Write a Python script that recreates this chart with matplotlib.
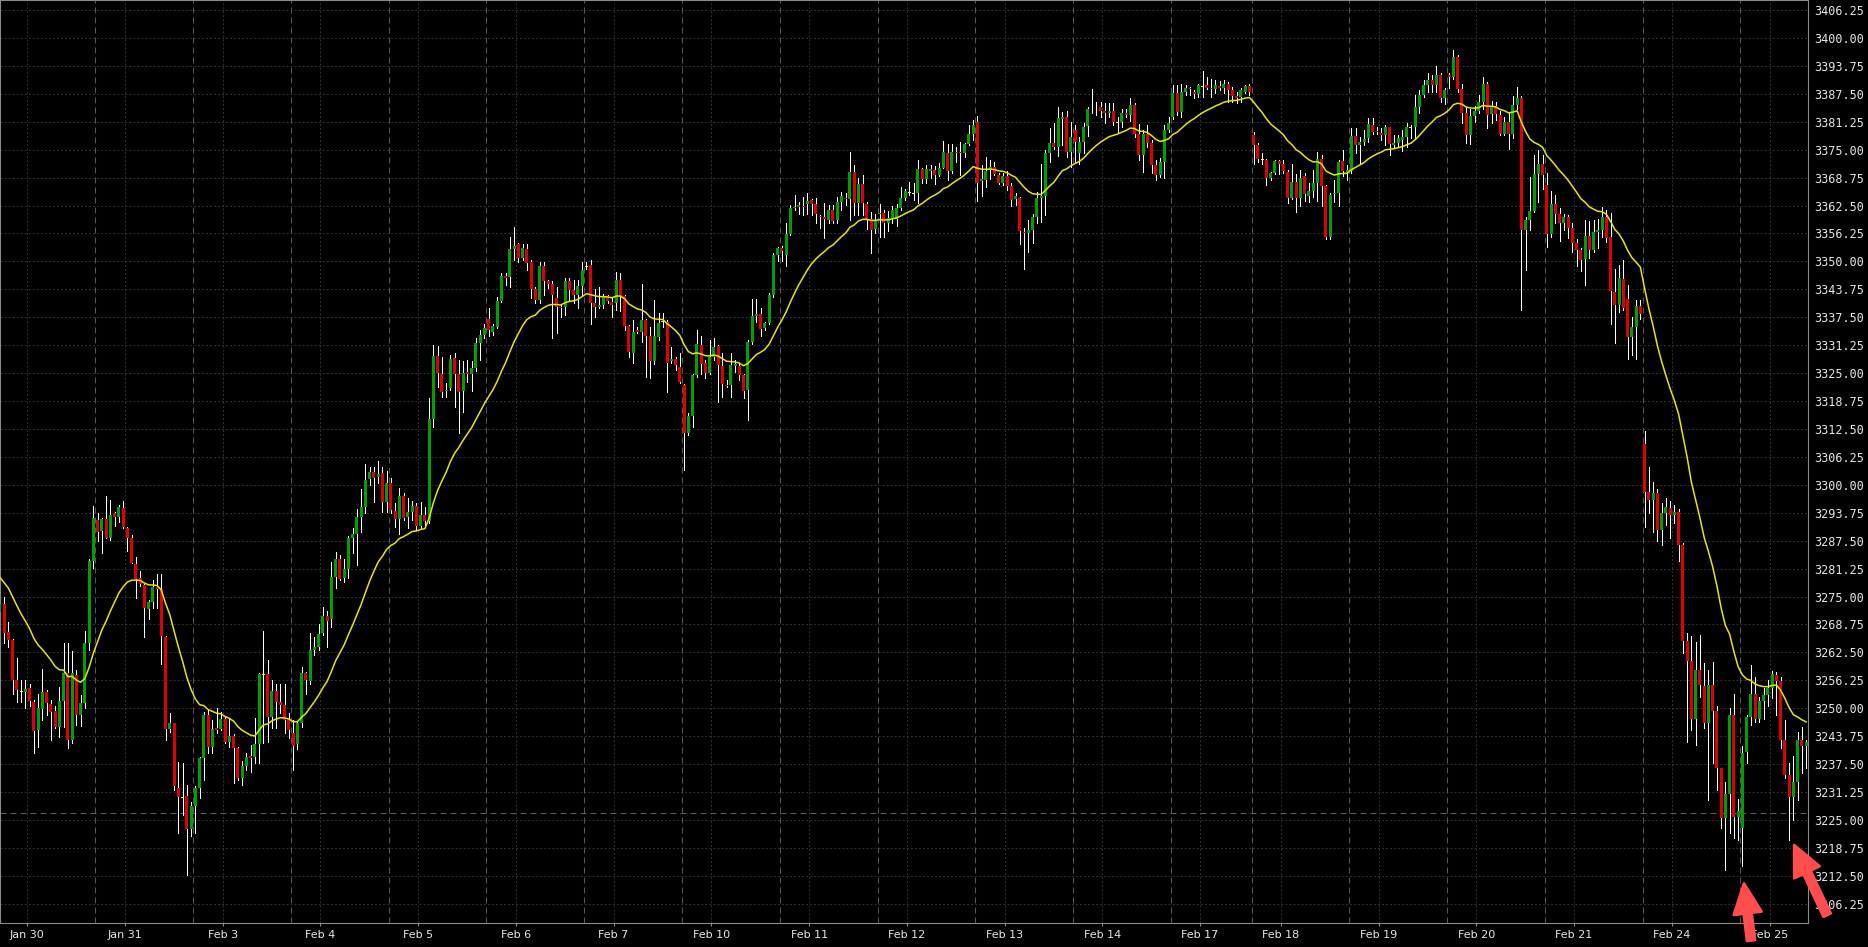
import numpy as np
import matplotlib
matplotlib.use("Agg")
import matplotlib.pyplot as plt
from matplotlib.patches import FancyArrow
from matplotlib.transforms import IdentityTransform

plt.rcParams['lines.scale_dashes'] = False

# ---------------- data ----------------
day_labels = ["Jan 30", "Jan 31", "Feb 3", "Feb 4", "Feb 5", "Feb 6", "Feb 7", "Feb 10",
              "Feb 11", "Feb 12", "Feb 13", "Feb 14", "Feb 17", "Feb 18", "Feb 19",
              "Feb 20", "Feb 21", "Feb 24", "Feb 25"]
bars_per_day = [23, 23, 23, 23, 23, 23, 23, 23, 23, 23, 23, 23, 19, 23, 23, 23, 23, 23, 16]

opens = [
 # Jan 30
 3271.6,3273.3,3267.1,3265.3,3256.3,3253.7,3253.7,3254.5,3251.5,3245.1,3249.9,3253.6,3250.9,3249.4,3245.9,3251.6,3257.8,3242.9,3257.4,3248.5,3251.2,3264.6,3282.9,
 # Jan 31
 3292.1,3289.6,3292.3,3288.2,3293.8,3292.7,3294.8,3290.4,3288.2,3282.3,3279.1,3277.5,3272.3,3273.8,3277.1,3276.8,3265.9,3245.3,3246.6,3232.1,3230.0,3230.4,3222.9,
 # Feb 3
 3228.1,3232.1,3238.8,3248.5,3241.4,3245.5,3245.3,3247.5,3242.5,3243.8,3241.0,3234.5,3237.1,3239.3,3239.0,3242.1,3257.6,3257.7,3248.1,3253.9,3251.4,3250.7,3247.4,
 # Feb 4
 3244.4,3242.1,3246.6,3258.0,3256.1,3263.0,3263.8,3266.9,3270.6,3270.0,3279.3,3283.5,3279.1,3281.1,3288.0,3289.0,3292.9,3295.0,3301.2,3302.9,3301.8,3302.6,3296.2,
 # Feb 5
 3300.3,3294.1,3292.3,3297.5,3292.9,3294.0,3295.3,3290.8,3293.2,3291.9,3314.7,3328.8,3324.8,3321.0,3321.7,3328.4,3324.8,3321.0,3325.2,3324.7,3326.2,3331.7,3333.5,
 # Feb 6
 3337.0,3334.3,3335.4,3341.1,3346.7,3346.4,3352.7,3353.9,3350.8,3352.7,3349.9,3343.8,3341.4,3349.0,3345.5,3344.9,3341.9,3339.9,3339.7,3345.6,3343.6,3342.5,3344.5,
 # Feb 7
 3348.8,3349.2,3340.6,3339.9,3340.2,3342.3,3340.8,3340.6,3345.8,3342.3,3335.6,3329.6,3334.6,3334.3,3336.9,3333.4,3327.6,3333.0,3336.5,3336.5,3327.6,3328.2,3326.4,
 # Feb 10
 3322.3,3311.5,3315.4,3324.6,3331.3,3327.3,3325.1,3328.5,3331.1,3326.6,3322.3,3322.3,3326.6,3326.6,3324.6,3321.2,3332.0,3337.8,3338.2,3335.2,3336.3,3342.5,3351.4,
 # Feb 11
 3352.9,3351.4,3356.1,3361.9,3362.2,3362.5,3362.8,3363.7,3362.8,3360.2,3359.9,3359.3,3361.6,3359.3,3363.4,3364.1,3364.0,3370.1,3363.0,3367.3,3362.8,3359.4,3357.2,
 # Feb 12
 3360.6,3360.9,3358.5,3359.6,3359.4,3361.9,3364.1,3365.4,3365.1,3365.2,3370.7,3368.4,3370.3,3370.4,3369.3,3371.0,3374.2,3370.2,3374.4,3374.4,3374.2,3376.3,3378.5,
 # Feb 13
 3381.3,3367.9,3368.2,3370.5,3371.2,3369.3,3367.5,3369.1,3366.9,3363.9,3364.2,3356.5,3356.3,3357.0,3359.9,3364.1,3364.6,3374.2,3376.4,3375.7,3381.9,3382.2,3374.5,
 # Feb 14
 3379.4,3374.3,3376.8,3380.3,3384.1,3384.1,3384.5,3383.6,3383.1,3383.6,3381.1,3381.1,3383.3,3382.8,3385.0,3378.6,3373.8,3378.5,3376.4,3371.6,3369.3,3372.3,3379.4,
 # Feb 17
 3382.4,3387.6,3383.5,3388.0,3388.7,3388.0,3387.4,3389.2,3389.5,3388.9,3388.5,3389.2,3388.9,3389.8,3388.3,3387.1,3386.7,3388.0,3389.2,
 # Feb 18
 3378.3,3376.0,3372.7,3372.7,3368.6,3369.7,3372.5,3371.9,3370.1,3364.2,3367.8,3364.2,3369.1,3364.7,3365.7,3367.6,3372.8,3366.9,3355.5,3365.0,3365.4,3372.5,3369.9,
 # Feb 19
 3370.2,3378.0,3376.0,3376.8,3377.5,3380.5,3379.2,3378.8,3378.3,3380.0,3376.0,3376.4,3377.2,3377.9,3379.9,3380.1,3384.5,3387.2,3389.5,3390.6,3389.5,3391.7,3386.5,
 # Feb 20
 3391.7,3391.3,3395.8,3388.5,3383.3,3378.3,3382.5,3383.6,3385.7,3389.8,3382.9,3384.8,3382.8,3378.6,3381.3,3378.6,3385.0,3386.5,3357.0,3359.2,3361.3,3369.5,3371.9,
 # Feb 21
 3367.1,3356.1,3362.8,3360.7,3358.5,3359.9,3357.4,3354.2,3352.5,3350.5,3355.7,3352.5,3356.6,3357.0,3360.0,3355.5,3343.2,3340.2,3346.1,3341.5,3333.0,3335.4,3340.0,
 # Feb 24
 3309.1,3298.5,3296.7,3298.2,3290.0,3293.6,3294.8,3293.3,3294.0,3286.5,3265.1,3260.6,3247.5,3258.6,3255.0,3246.6,3255.2,3249.4,3236.6,3225.4,3230.8,3248.5,3225.7,
 # Feb 25
 3223.3,3240.3,3248.0,3253.1,3247.7,3251.6,3253.0,3254.5,3257.4,3256.1,3242.9,3235.1,3230.2,3233.6,3242.9,3241.6,
]

highs = [
 3274.8,3274.8,3269.4,3265.5,3261.2,3256.3,3256.3,3255.4,3251.8,3253.3,3258.8,3254.2,3251.8,3250.4,3254.8,3264.5,3264.5,3262.9,3258.5,3252.9,3267.3,3283.5,3295.3,
 3293.6,3292.5,3297.5,3296.6,3294.0,3295.4,3296.3,3290.6,3288.8,3283.9,3280.8,3277.8,3274.2,3278.7,3280.0,3280.0,3266.2,3248.9,3246.8,3238.0,3237.8,3232.8,3229.0,
 3232.5,3239.2,3249.1,3249.6,3247.3,3250.0,3249.2,3248.0,3247.8,3244.2,3241.4,3238.2,3239.9,3241.8,3247.8,3258.0,3267.3,3260.8,3256.3,3255.4,3255.4,3255.4,3248.9,
 3247.4,3246.9,3259.3,3258.2,3266.8,3266.0,3268.8,3272.7,3271.8,3282.8,3284.9,3284.3,3283.4,3288.5,3290.3,3294.7,3299.0,3304.6,3304.0,3303.9,3305.3,3303.9,3303.1,
 3301.6,3295.9,3299.2,3298.2,3297.0,3296.4,3296.0,3296.2,3295.1,3319.4,3331.3,3331.1,3328.7,3322.7,3329.0,3329.4,3327.9,3327.6,3327.9,3327.6,3332.8,3334.6,3336.0,
 3339.5,3336.1,3342.0,3347.3,3347.3,3355.5,3357.8,3354.2,3354.0,3354.0,3350.3,3344.3,3349.9,3349.9,3345.8,3345.5,3344.3,3340.2,3346.2,3346.2,3345.8,3345.8,3349.9,
 3349.9,3350.2,3343.9,3344.3,3342.8,3342.5,3342.1,3347.7,3347.5,3342.5,3335.8,3336.9,3335.4,3344.9,3337.2,3335.4,3341.4,3338.4,3338.4,3336.8,3330.9,3328.7,3329.4,
 3322.6,3316.0,3324.9,3334.6,3333.2,3327.9,3332.4,3332.8,3331.4,3329.4,3323.5,3329.4,3327.9,3327.2,3324.9,3332.4,3341.5,3341.5,3339.5,3336.5,3343.0,3351.8,3353.3,
 3353.4,3358.5,3362.6,3364.9,3363.4,3364.5,3365.2,3363.9,3364.1,3360.4,3363.0,3362.6,3362.6,3364.5,3365.6,3365.2,3374.5,3371.6,3368.6,3369.3,3363.4,3361.1,3360.7,
 3362.8,3361.6,3361.3,3362.5,3362.8,3366.7,3366.3,3367.8,3367.5,3372.7,3370.8,3371.6,3371.6,3371.3,3372.1,3377.0,3376.3,3376.3,3375.5,3376.8,3376.6,3380.5,3381.6,
 3382.5,3371.6,3373.4,3372.7,3372.3,3369.7,3369.7,3370.3,3367.5,3365.2,3364.5,3357.4,3359.3,3360.7,3365.6,3371.9,3374.9,3379.8,3380.9,3384.6,3383.5,3383.7,3381.3,
 3380.5,3377.8,3380.9,3384.6,3388.5,3385.7,3385.7,3385.5,3385.5,3385.5,3382.4,3384.0,3384.2,3386.5,3385.4,3380.7,3379.4,3380.5,3377.2,3372.7,3373.1,3380.5,3382.2,
 3389.5,3389.5,3389.7,3389.5,3389.1,3388.3,3389.8,3392.6,3391.3,3390.9,3390.6,3390.4,3390.6,3390.2,3389.1,3388.0,3388.7,3389.5,3389.7,
 3379.0,3376.4,3374.3,3373.0,3370.1,3372.7,3372.7,3372.7,3370.4,3371.8,3369.5,3370.4,3369.7,3367.5,3370.4,3374.5,3373.8,3367.2,3365.4,3368.2,3372.7,3374.9,3371.6,
 3379.8,3379.8,3377.9,3379.4,3382.0,3382.0,3380.1,3379.8,3380.5,3380.1,3378.3,3378.3,3379.4,3380.9,3380.5,3387.2,3388.3,3390.6,3392.2,3391.7,3393.7,3392.1,3388.7,
 3392.1,3397.3,3396.2,3389.8,3384.6,3384.0,3384.8,3387.2,3391.2,3390.2,3386.0,3385.7,3383.7,3382.4,3383.1,3386.9,3389.1,3386.9,3360.0,3368.8,3373.8,3374.9,3373.9,
 3369.7,3365.7,3364.8,3361.9,3360.7,3360.4,3358.7,3355.1,3352.9,3359.2,3359.1,3359.2,3359.4,3362.2,3361.6,3360.9,3348.2,3349.2,3350.3,3344.7,3337.6,3341.4,3341.4,
 3312.1,3303.9,3300.7,3299.0,3296.0,3297.0,3296.3,3295.5,3294.5,3287.0,3266.8,3266.2,3264.9,3266.4,3260.2,3258.6,3260.4,3250.4,3236.6,3233.6,3250.0,3253.3,3229.8,
 3241.6,3248.5,3259.7,3256.9,3252.6,3254.5,3256.3,3258.4,3258.2,3257.1,3247.4,3237.7,3239.3,3244.8,3245.9,3243.0,
]

lows = [
 3270.5,3264.5,3263.8,3253.3,3251.5,3251.5,3250.0,3250.4,3239.9,3241.4,3247.4,3248.5,3242.9,3245.5,3243.5,3245.9,3241.0,3242.2,3246.3,3246.0,3250.0,3263.0,3281.5,
 3287.5,3284.8,3288.0,3287.6,3290.8,3291.7,3290.3,3285.3,3282.4,3274.6,3277.4,3266.0,3269.9,3272.5,3272.5,3259.8,3243.0,3244.8,3231.7,3222.0,3226.1,3212.8,3221.4,
 3222.0,3230.0,3233.9,3239.9,3240.1,3244.4,3245.1,3242.2,3241.4,3233.3,3234.0,3232.8,3236.2,3235.8,3237.8,3237.8,3242.2,3242.5,3245.5,3245.5,3248.9,3244.4,3243.3,
 3236.2,3240.8,3245.7,3253.3,3255.5,3262.0,3263.0,3266.4,3263.8,3268.2,3277.0,3278.7,3278.3,3279.2,3284.8,3282.0,3289.5,3293.6,3299.9,3296.2,3300.3,3294.0,3294.0,
 3293.6,3290.6,3289.1,3292.1,3290.3,3292.1,3289.9,3290.3,3290.6,3291.5,3312.9,3321.9,3319.7,3319.7,3321.2,3317.5,3311.7,3316.4,3323.1,3321.1,3325.5,3327.9,3332.8,
 3333.2,3333.5,3335.0,3341.0,3344.7,3344.3,3350.3,3349.9,3350.3,3348.1,3341.7,3340.6,3340.6,3342.5,3344.0,3332.8,3333.9,3337.6,3338.0,3341.4,3340.6,3339.5,3342.5,
 3348.4,3336.1,3337.6,3339.5,3339.6,3340.6,3337.6,3339.1,3339.0,3334.6,3328.7,3327.3,3333.9,3332.0,3324.2,3324.0,3327.0,3332.4,3335.4,3320.8,3327.2,3325.8,3322.7,
 3303.3,3311.1,3313.0,3324.2,3324.9,3324.0,3324.9,3327.9,3318.6,3319.7,3321.8,3319.7,3325.3,3323.5,3319.4,3314.5,3331.5,3336.5,3333.2,3334.6,3336.1,3342.1,3350.0,
 3350.0,3349.0,3355.9,3361.5,3360.7,3360.4,3360.7,3360.4,3358.5,3357.4,3355.2,3358.5,3358.7,3358.5,3361.5,3362.6,3359.3,3360.4,3360.4,3360.4,3357.2,3351.8,3356.3,
 3355.5,3355.4,3356.9,3358.5,3358.0,3361.5,3363.7,3364.9,3363.7,3363.1,3367.5,3367.5,3368.6,3367.3,3369.0,3370.8,3368.2,3369.7,3372.3,3369.3,3373.4,3376.0,3377.2,
 3363.6,3364.6,3366.7,3368.4,3369.3,3367.3,3367.1,3366.0,3362.4,3362.6,3353.9,3348.2,3352.2,3354.2,3358.5,3358.9,3360.4,3372.3,3375.2,3373.6,3376.0,3373.4,3371.2,
 3372.0,3371.8,3374.2,3378.1,3383.1,3382.8,3382.4,3381.0,3382.4,3380.5,3378.8,3380.1,3382.4,3381.5,3377.8,3372.7,3370.1,3375.5,3369.7,3368.1,3368.9,3368.6,3379.0,
 3381.8,3382.7,3382.4,3387.2,3387.2,3386.5,3386.8,3386.8,3388.5,3386.8,3387.6,3388.3,3387.6,3385.7,3385.7,3385.5,3385.7,3387.6,3387.2,
 3371.9,3372.3,3371.9,3367.1,3368.2,3369.5,3369.5,3369.7,3363.0,3363.9,3361.1,3362.4,3363.6,3363.4,3364.5,3363.6,3362.4,3355.1,3355.1,3363.4,3362.4,3369.0,3368.3,
 3369.7,3374.2,3371.9,3376.0,3376.8,3378.6,3378.5,3377.2,3376.0,3373.8,3375.3,3375.5,3374.8,3375.7,3377.5,3377.5,3383.1,3386.8,3388.0,3388.0,3388.0,3385.7,3385.3,
 3388.7,3390.8,3388.0,3381.0,3376.6,3376.3,3381.3,3383.1,3384.2,3379.8,3381.0,3381.6,3378.3,3378.3,3375.1,3377.5,3384.2,3339.1,3348.1,3357.0,3361.1,3363.3,3366.3,
 3353.3,3355.5,3358.5,3354.6,3357.0,3355.2,3352.2,3348.9,3347.9,3344.7,3350.8,3352.2,3352.9,3355.5,3354.4,3336.1,3331.8,3338.7,3339.2,3328.1,3329.0,3328.1,3337.0,
 3290.5,3293.6,3289.5,3287.5,3286.5,3291.0,3288.0,3291.5,3283.0,3262.3,3242.5,3245.1,3241.8,3252.6,3245.5,3229.5,3237.7,3231.7,3223.1,3213.9,3222.0,3220.9,3220.5,
 3214.6,3237.7,3246.3,3247.0,3247.0,3247.7,3250.5,3252.2,3248.5,3241.0,3234.3,3220.5,3225.0,3229.5,3235.6,3236.6,
]

closes = [
 3273.3,3266.9,3265.3,3256.3,3254.1,3253.7,3254.3,3251.7,3245.0,3250.0,3253.6,3251.1,3249.2,3245.9,3251.6,3257.8,3243.0,3257.8,3248.5,3251.1,3264.5,3282.9,3292.5,
 3289.5,3292.3,3288.2,3293.3,3292.9,3295.0,3290.5,3288.2,3282.6,3279.0,3277.8,3272.5,3273.8,3277.1,3276.7,3266.2,3245.3,3246.6,3232.5,3230.2,3230.0,3222.9,3228.1,
 3232.1,3238.8,3248.5,3241.4,3245.3,3245.1,3247.5,3242.5,3243.8,3241.0,3234.5,3237.1,3239.2,3238.9,3242.0,3257.7,3257.6,3248.1,3253.9,3251.5,3250.7,3247.4,3245.1,
 3241.6,3246.6,3258.0,3256.3,3263.0,3263.8,3266.6,3270.6,3269.6,3279.3,3283.5,3278.9,3281.1,3288.2,3289.0,3292.9,3295.1,3301.1,3302.9,3301.6,3302.4,3296.2,3300.5,
 3294.4,3292.3,3297.5,3292.6,3294.0,3295.3,3290.8,3293.2,3291.9,3314.7,3328.8,3325.1,3320.8,3321.2,3328.1,3324.9,3320.8,3325.1,3324.8,3326.2,3331.7,3333.5,3335.0,
 3334.6,3335.5,3341.1,3346.7,3346.2,3352.7,3353.4,3350.8,3353.1,3349.7,3343.8,3341.4,3349.0,3345.5,3344.9,3342.5,3339.9,3339.5,3345.6,3343.7,3342.5,3344.5,3348.1,
 3348.8,3340.6,3339.9,3340.2,3342.3,3341.2,3340.2,3345.8,3342.3,3335.6,3329.8,3334.3,3334.3,3336.9,3333.4,3327.6,3333.2,3336.3,3336.5,3327.3,3328.2,3326.8,3323.1,
 3311.5,3315.4,3324.6,3331.5,3327.0,3325.1,3328.5,3330.8,3326.8,3322.6,3322.1,3326.8,3327.0,3324.6,3321.1,3332.0,3337.8,3338.2,3334.9,3336.3,3342.5,3351.4,3352.9,
 3352.3,3356.1,3361.9,3362.2,3362.6,3362.2,3363.5,3362.8,3360.6,3359.9,3359.4,3361.6,3359.0,3363.4,3364.6,3363.9,3370.1,3363.0,3367.3,3363.0,3359.4,3357.0,3359.1,
 3360.9,3358.7,3359.6,3361.6,3361.9,3364.1,3365.8,3365.4,3365.1,3370.7,3368.4,3370.7,3370.7,3369.3,3371.0,3374.4,3370.2,3374.4,3374.2,3374.2,3376.3,3378.5,3380.5,
 3367.6,3368.4,3370.3,3371.2,3369.5,3367.6,3369.1,3366.9,3363.7,3364.6,3356.9,3356.3,3357.0,3359.9,3364.1,3364.6,3374.2,3376.4,3375.5,3382.0,3382.2,3374.5,3377.9,
 3376.8,3376.8,3380.1,3384.0,3384.1,3384.1,3383.7,3383.1,3383.6,3381.1,3381.1,3383.1,3382.8,3385.0,3378.6,3373.8,3378.5,3376.4,3371.6,3369.3,3372.3,3379.4,3381.0,
 3387.6,3383.5,3388.0,3388.7,3388.5,3387.4,3389.5,3389.2,3388.9,3388.5,3389.5,3388.9,3389.8,3388.3,3387.1,3386.6,3388.3,3389.2,3388.0,
 3376.0,3372.8,3372.7,3368.6,3369.7,3372.5,3371.9,3370.2,3364.2,3367.8,3364.2,3368.7,3365.0,3365.7,3367.6,3372.8,3366.9,3355.5,3364.8,3365.4,3372.3,3370.2,3370.4,
 3378.0,3376.0,3376.8,3377.3,3380.7,3379.0,3378.9,3378.3,3380.0,3376.2,3376.4,3377.5,3377.9,3380.1,3379.9,3384.5,3387.2,3389.5,3390.6,3389.5,3391.7,3386.5,3388.3,
 3391.3,3395.8,3388.5,3383.3,3378.3,3382.5,3383.6,3385.7,3389.7,3382.8,3384.8,3382.9,3378.6,3381.3,3378.6,3385.0,3386.5,3357.0,3359.2,3361.3,3369.5,3371.9,3369.3,
 3356.1,3362.8,3360.7,3358.7,3359.9,3357.4,3354.2,3352.5,3350.3,3355.7,3352.5,3356.6,3357.0,3360.0,3355.3,3343.4,3340.2,3346.2,3339.5,3333.0,3335.4,3340.0,3338.2,
 3298.5,3296.7,3298.2,3290.0,3293.6,3295.0,3293.3,3294.0,3286.5,3265.1,3260.6,3247.5,3258.6,3255.2,3246.6,3255.2,3249.4,3236.6,3225.4,3230.8,3248.5,3225.7,3227.1,
 3239.9,3248.0,3253.1,3247.7,3251.6,3253.0,3254.6,3257.7,3256.1,3243.0,3235.1,3230.2,3233.6,3243.0,3241.6,3242.5,
]

ma_start = 3279.3          # moving average value at the first visible bar
ma_span = 20               # exponential moving average length
ref_level = 3226.5         # horizontal dashed price line
y_tick_values = [3206.25 + 6.25 * k for k in range(33)]
arrow_bars = [410, 421]

n = len(closes)
assert len(opens) == n and len(highs) == n and len(lows) == n, (len(opens), len(highs), len(lows), n)
assert sum(bars_per_day) == n, (sum(bars_per_day), n)

# ---------------- figure ----------------
W, H = 1868, 947
fig = plt.figure(figsize=(W / 100, H / 100), dpi=100, facecolor="black")
ax = fig.add_axes([0, 24 / H, 1808 / W, 923 / H])
ax.set_facecolor("black")
ax.set_xlim(0.03, 425.44)
ax.set_ylim(3201.95, 3408.49)

x = np.arange(n)
o = np.array(opens); h = np.array(highs); l = np.array(lows); c = np.array(closes)

day_starts = np.concatenate([[0], np.cumsum(bars_per_day)[:-1]])
grid_col = "#303030"
dot = (0, (1.45, 1.45))
dash = (0, (4.3, 2.9))

for yv in y_tick_values:
    ax.axhline(yv, color=grid_col, lw=0.75, ls=dot, zorder=0)
for s in day_starts[1:]:
    ax.axvline(s - 0.5, color="#575757", lw=0.75, ls=dash, zorder=0)
label_pos = day_starts + 6.4
for p in label_pos:
    ax.axvline(p, color=grid_col, lw=0.75, ls=dot, zorder=0)
ax.axhline(ref_level, color="#5f5f5f", lw=0.75, ls=dash, zorder=0)

# wicks (1 px)
ax.vlines(x, l, h, color="white", lw=0.5, zorder=2, antialiased=False)
# bodies
cols = np.where(c > o, "#00a000", np.where(c < o, "#e00000", "#ffff00"))
body_h = np.abs(c - o)
body_b = np.minimum(o, c)
small = body_h < 0.22
body_b = np.where(small, (o + c) / 2 - 0.11, body_b)
body_h = np.where(small, 0.22, body_h)
ax.bar(x, body_h, bottom=body_b, width=0.68, color=cols, linewidth=0, zorder=3)

# moving average
ma = np.empty(n)
alpha = 2.0 / (ma_span + 1)
m = ma_start
for i in range(n):
    if i > 0:
        m = m + alpha * (c[i] - m)
    ma[i] = m
ax.plot(x, ma, color="#e6e600", lw=1.1, zorder=4)

# axes styling
for sp in ax.spines.values():
    sp.set_color("#8a8a8a")
    sp.set_linewidth(0.8)
ax.yaxis.tick_right()
ax.set_yticks(y_tick_values)
ax.set_yticklabels([f"{v:.2f}" for v in y_tick_values], family="DejaVu Sans Mono", fontsize=8.5)
ax.tick_params(axis="y", length=0, pad=4.3, colors="#e6e6e6")
ax.set_xticks(label_pos)
ax.set_xticklabels(day_labels, fontsize=8)
ax.tick_params(axis="x", length=2.2, width=0.8, pad=3, color="#8a8a8a", labelcolor="#e6e6e6")

# red arrows pointing at the two lows
arrow_geom = [((1.6, -17), (7, -57)), ((5, -5), (33, -70))]
fig.canvas.draw()
for b, ((tx, ty), (dx, dy)) in zip(arrow_bars, arrow_geom):
    px, py = ax.transData.transform((b, l[b]))
    tipx, tipy = px + tx, py + ty
    tailx, taily = tipx + dx, tipy + dy
    arr = FancyArrow(tailx, taily, tipx - tailx, tipy - taily, width=8, head_width=28,
                     head_length=30, length_includes_head=True, fc="#ff4d4d", ec="#ff4d4d",
                     lw=2, joinstyle="round", transform=IdentityTransform(), zorder=10)
    arr.set_clip_on(False)
    fig.add_artist(arr)

fig.savefig("out.png", dpi=100, facecolor="black")
